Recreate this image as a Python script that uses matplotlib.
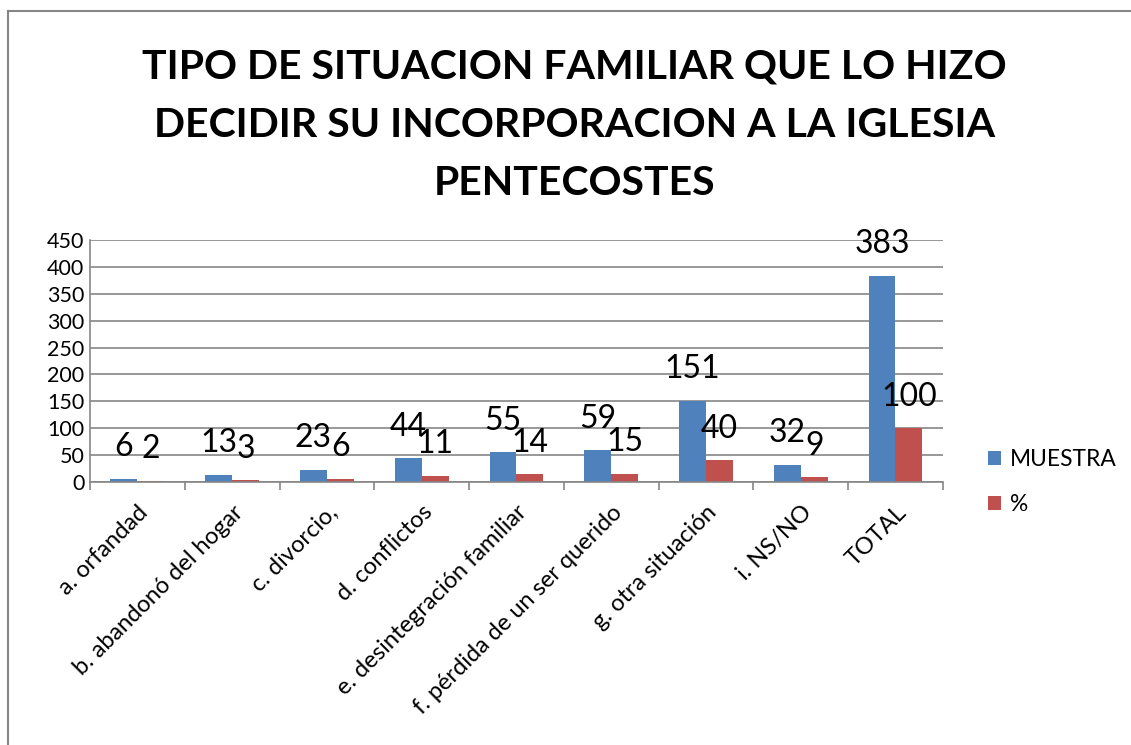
import matplotlib.pyplot as plt
import numpy as np
from matplotlib.lines import Line2D

categories = ['a. orfandad', 'b. abandonó del hogar', 'c. divorcio,', 'd. conflictos',
              'e. desintegración familiar', 'f. pérdida de un ser querido',
              'g. otra situación', 'i. NS/NO', 'TOTAL']
muestra = [6, 13, 23, 44, 55, 59, 151, 32, 383]
pct = [2, 3, 6, 11, 14, 15, 40, 9, 100]
yticks = [0, 50, 100, 150, 200, 250, 300, 350, 400, 450]

plt.rcParams['font.family'] = ['Lato', 'DejaVu Sans']

fig = plt.figure(figsize=(11.31, 7.45), dpi=100)
ax = fig.add_axes([0.0796, 0.353, 0.754, 0.325])

x = np.arange(len(categories))
w = 0.284
b1 = ax.bar(x - w / 2, muestra, w, color='#4F81BD', label='MUESTRA')
b2 = ax.bar(x + w / 2, pct, w, color='#C0504D', label='%')

for rects, vals in ((b1, muestra), (b2, pct)):
    for r, v in zip(rects, vals):
        ax.annotate(str(v), (r.get_x() + r.get_width() / 2, v),
                    xytext=(0, 12), textcoords='offset points',
                    ha='center', va='bottom', fontsize=23)

ax.set_ylim(0, 450)
ax.set_yticks(yticks)
ax.set_xlim(-0.5, len(categories) - 0.5)
ax.yaxis.grid(True, color='#868686', lw=1.2)
ax.set_axisbelow(True)
for s in ('top', 'right'):
    ax.spines[s].set_visible(False)
for s in ('left', 'bottom'):
    ax.spines[s].set_color('#868686')
    ax.spines[s].set_linewidth(1.2)
ax.tick_params(axis='y', length=0, labelsize=15.5, pad=4)
ax.set_xticks(x)
ax.set_xticklabels(categories, rotation=45, ha='right', rotation_mode='anchor', fontsize=17)
ax.tick_params(axis='x', length=0, pad=14)
ax.set_xticks(np.arange(len(categories) + 1) - 0.5, minor=True)
ax.tick_params(axis='x', which='minor', length=6, color='#868686', width=1.2)

fig.text(0.508, 0.832, 'TIPO DE SITUACION FAMILIAR QUE LO HIZO\nDECIDIR SU INCORPORACION A LA IGLESIA\nPENTECOSTES',
         ha='center', va='center', fontsize=29.5, fontweight='bold', linespacing=1.72)

fig.legend(handles=[b1, b2], loc='upper left', bbox_to_anchor=(0.855, 0.425),
           frameon=False, fontsize=16.4, handlelength=0.6, handleheight=0.6,
           labelspacing=1.05, handletextpad=0.4)

# chart border (left and top edges visible)
fig.add_artist(Line2D([0.0075, 0.0075], [0.0, 0.985], transform=fig.transFigure,
                      color='#868686', lw=1.5))
fig.add_artist(Line2D([0.0075, 1.0], [0.985, 0.985], transform=fig.transFigure,
                      color='#868686', lw=1.5))

fig.savefig('out.png', dpi=100)
